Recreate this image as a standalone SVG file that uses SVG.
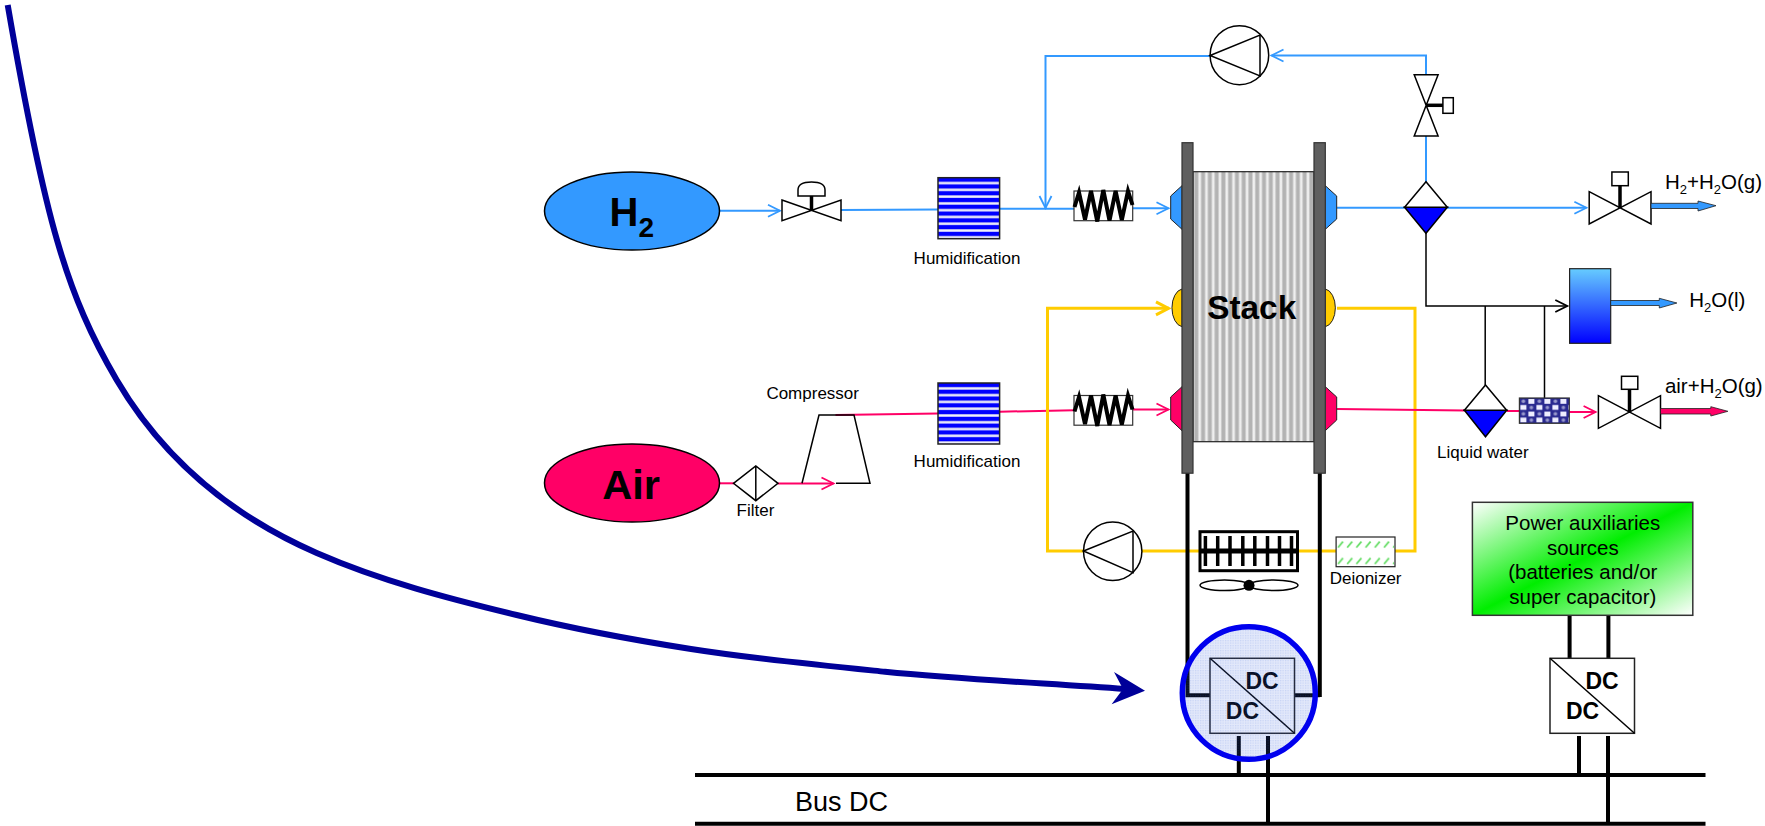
<svg xmlns="http://www.w3.org/2000/svg" xmlns:xlink="http://www.w3.org/1999/xlink" width="1765" height="826" viewBox="0 0 1765 826">
<style>
text{font-family:"Liberation Sans",Arial,sans-serif;fill:#000}
.lbl{font-size:17px}
.mid{text-anchor:middle}
.dc{font-size:23px;font-weight:bold;text-anchor:middle}
.pw{font-size:20.5px;text-anchor:middle}
.fl{font-size:20.5px}
.b{fill:none;stroke:#39f;stroke-width:2}
.p{fill:none;stroke:#f06;stroke-width:2}
.y{fill:none;stroke:#fc0;stroke-width:3}
.k{fill:none;stroke:#000;stroke-width:1.5}
.w{fill:none;stroke:#000;stroke-width:4}
.sym{fill:#fff;stroke:#000;stroke-width:1.5}
.stem{fill:none;stroke:#000;stroke-width:3.5}
.blk{stroke:#222;stroke-width:.8}
.plate{fill:#5f5f5f;stroke:#333;stroke-width:1.2}
.port{stroke:#222;stroke-width:1}
</style>
<defs>
<marker id="mb" markerUnits="userSpaceOnUse" markerWidth="16" markerHeight="16" refX="13" refY="8" orient="auto"><path d="M1 2L13 8L1 14" fill="none" stroke="#39f" stroke-width="1.8"/></marker>
<marker id="mp" markerUnits="userSpaceOnUse" markerWidth="16" markerHeight="16" refX="13" refY="8" orient="auto"><path d="M1 2L13 8L1 14" fill="none" stroke="#f06" stroke-width="1.8"/></marker>
<marker id="my" markerUnits="userSpaceOnUse" markerWidth="16" markerHeight="18" refX="14" refY="9" orient="auto"><path d="M1 2.500L13.500 9L1 15.500" fill="none" stroke="#fc0" stroke-width="3"/></marker>
<marker id="mk" markerUnits="userSpaceOnUse" markerWidth="16" markerHeight="16" refX="13" refY="8" orient="auto"><path d="M1 2L13 8L1 14" fill="none" stroke="#000" stroke-width="1.8"/></marker>
<linearGradient id="gStripe" x1="0" y1="0" x2="0" y2="1"><stop offset="0" stop-color="#00f"/><stop offset=".5" stop-color="#00f"/><stop offset=".68" stop-color="#dde"/><stop offset=".85" stop-color="#fff"/><stop offset="1" stop-color="#99f"/></linearGradient>
<pattern id="hum" patternUnits="objectBoundingBox" width="1" height=".1111"><rect width="70" height="6.78" fill="url(#gStripe)"/></pattern>
<linearGradient id="gBar" x1="0" y1="0" x2="1" y2="0"><stop offset="0" stop-color="#fff"/><stop offset=".3" stop-color="#b3b3b3"/><stop offset=".65" stop-color="#b3b3b3"/><stop offset="1" stop-color="#fff"/></linearGradient>
<pattern id="bars" patternUnits="userSpaceOnUse" x="1193" y="0" width="6.77" height="10"><rect width="6.77" height="10" fill="url(#gBar)"/></pattern>
<linearGradient id="gTank" x1="0" y1="0" x2="0" y2="1"><stop offset="0" stop-color="#6cf"/><stop offset="1" stop-color="#00f"/></linearGradient>
<linearGradient id="gGreen" x1="0" y1="0" x2="1" y2="1"><stop offset="0" stop-color="#fff"/><stop offset=".5" stop-color="#0e0"/><stop offset="1" stop-color="#fff"/></linearGradient>
<pattern id="dots" patternUnits="userSpaceOnUse" width="2.500" height="2.500"><rect width="2.500" height="2.500" fill="#3a64dc" fill-opacity=".15"/><rect width="1.250" height="1.250" fill="#3a64dc" fill-opacity=".16"/></pattern>
<pattern id="mesh" patternUnits="userSpaceOnUse" x="1519.400" y="398" width="16" height="12.600"><rect width="16" height="12.600" fill="#2a2a90"/><rect x="1" y="7" width="6" height="4.800" fill="#eef"/><rect x="9" y="1" width="6" height="4.800" fill="#eef"/><circle cx="4" cy="3.200" r="1.800" fill="#99c"/><circle cx="12" cy="9.500" r="1.800" fill="#99c"/></pattern>
<pattern id="hatch" patternUnits="userSpaceOnUse" x="1336" y="540" width="9.200" height="16.500"><path d="M2 7.500L7 1.500" stroke="#6d6" stroke-width="1.800" fill="none"/></pattern>
<g id="coil"><rect width="58.700" height="29.700" fill="#fff" stroke="#333" stroke-width="1.200"/><path d="M.5 16L5 1.500L11 28.500L17 0L23.300 30.500L29.300 -1L35.500 29.500L41.600 0L47.800 29L54 0L58.500 14" fill="none" stroke="#000" stroke-width="4" stroke-linejoin="miter"/></g>
</defs>
<rect width="1765" height="826" fill="#fff"/>

<g id="connectors">
<path class="b" d="M719 210.700H780" marker-end="url(#mb)"/>
<path class="b" d="M841 210L938 209.400"/>
<path class="b" d="M999.600 208.700H1074"/>
<path class="b" d="M1132.700 208.300H1168.500" marker-end="url(#mb)"/>
<path class="b" d="M1426 75V55.500H1271.500" marker-end="url(#mb)"/>
<path class="b" d="M1210.100 56H1045.500V208" marker-end="url(#mb)"/>
<path class="b" d="M1426 136V182"/>
<path class="b" d="M1337 207.700H1405"/>
<path class="b" d="M1447 207.700H1586.400" marker-end="url(#mb)"/>
<path class="p" d="M719 483.300H734"/>
<path class="p" d="M778 483.500H833.500" marker-end="url(#mp)"/>
<path class="p" d="M835.500 415L938 413.500"/>
<path class="p" d="M999.600 411.700L1074 410.300"/>
<path class="p" d="M1132.700 409.500H1168.500" marker-end="url(#mp)"/>
<path class="y" d="M1142 551H1199M1083.500 551H1047.500V308.300H1169" marker-end="url(#my)"/>
<path class="y" d="M1337 308.300H1415V551H1395M1336 551H1298"/>
<path class="p" d="M1337 409L1465 410.500"/>
<path class="p" d="M1506.700 411H1520"/>
<path class="p" d="M1569.300 412H1595.600" marker-end="url(#mp)"/>
<path class="k" d="M1426 233V306H1567.300" marker-end="url(#mk)"/>
<path class="k" d="M1485.200 306V385M1544.500 306V398"/>
<path class="w" d="M1187.500 473V695.300H1210M1319.800 473V697M1294.500 695.300H1319.800"/>
<path class="w" d="M1238.800 736V775M1268 736V824"/>
<path class="w" d="M1569.600 615V658M1608.400 615V658"/>
<path class="w" d="M1579 736V775M1608 736V824"/>
<path class="w" d="M695 775H1705.500M695 823.700H1705.500"/>
</g>

<g id="node-h2"><ellipse cx="632" cy="211" rx="87.500" ry="39" fill="#39f" stroke="#000" stroke-width="1.500"/><text x="609.500" y="226" font-size="40" font-weight="bold">H<tspan font-size="28" dy="10.500">2</tspan></text></g>
<g id="node-air"><ellipse cx="632" cy="483" rx="87.500" ry="39" fill="#f06" stroke="#000" stroke-width="1.500"/><text x="631" y="498.500" font-size="41.500" font-weight="bold" text-anchor="middle">Air</text></g>

<g id="node-h2-valve"><path class="sym" d="M782 200L841 220.700V200L782 220.700Z"/><path class="stem" d="M811.500 196V211"/><path class="sym" d="M798 196V190Q798 182 811.500 182Q825 182 825 190V196Z"/></g>
<g id="node-hum1"><rect x="938" y="177.700" width="61.600" height="61" fill="url(#hum)" stroke="#222" stroke-width="1.500"/><text class="lbl mid" x="967" y="264">Humidification</text></g>
<g id="node-hum2"><rect x="938" y="383" width="61.600" height="61" fill="url(#hum)" stroke="#222" stroke-width="1.500"/><text class="lbl mid" x="967" y="467">Humidification</text></g>
<g id="node-coil1"><use href="#coil" x="1074" y="191"/></g>
<g id="node-coil2"><use href="#coil" x="1074" y="395.500"/></g>

<g id="node-filter"><path class="sym" d="M733.500 483.300L755.800 466L778 483.300L755.800 500.700ZM755.800 466V500.700"/><text class="lbl mid" x="755.500" y="516">Filter</text></g>
<g id="node-compressor"><path d="M802 483.300L819 415H854L870 483.300H836" fill="none" stroke="#000" stroke-width="1.500"/><text class="lbl mid" x="812.700" y="399">Compressor</text></g>

<g id="node-stack">
<rect x="1193" y="171.700" width="121" height="270" fill="url(#bars)" stroke="#222" stroke-width="1.200"/>
<path class="port" fill="#39f" d="M1182 185.700L1170.700 196V219L1182 229.300Z"/>
<path class="port" fill="#39f" d="M1325.300 185.700L1336.700 196V219L1325.300 229.300Z"/>
<path class="port" fill="#fc0" d="M1182 289A11.500 19 0 0 0 1182 326.700Z"/>
<path class="port" fill="#fc0" d="M1325.300 289A11.500 19 0 0 1 1325.300 326.700Z"/>
<path class="port" fill="#f06" d="M1182 386.700L1170.700 397V420L1182 430.700Z"/>
<path class="port" fill="#f06" d="M1325.300 386.700L1336.700 397V420L1325.300 430.700Z"/>
<rect class="plate" x="1182" y="142.700" width="11" height="330.500"/>
<rect class="plate" x="1314" y="142.700" width="11.300" height="330.500"/>
<text x="1251.700" y="319.300" font-size="33.400" font-weight="bold" text-anchor="middle">Stack</text>
</g>

<g id="node-pump-h2"><ellipse class="sym" cx="1239.400" cy="55.200" rx="29.300" ry="29.500"/><path class="sym" d="M1210.100 55.500L1260 35V76Z"/></g>
<g id="node-pump-coolant"><ellipse class="sym" cx="1112.700" cy="551.300" rx="29.200" ry="29.300"/><path class="sym" d="M1083.500 551L1133 531V572.700Z"/></g>
<g id="node-h2-recycle-valve"><path class="sym" d="M1414.200 74.700H1438.100L1414.200 136H1438.100Z"/><path class="stem" d="M1426 105.300H1443"/><rect class="sym" x="1442.900" y="97.700" width="10.400" height="15.600"/></g>
<g id="node-sep1"><path d="M1404.600 207.300L1426 233.300L1447.300 207.300Z" fill="#00f" stroke="#000" stroke-width="1.500"/><path class="sym" d="M1404.600 207.300L1426 181.700L1447.300 207.300Z"/></g>
<g id="node-h2-valve-out"><path class="sym" d="M1589.200 191.700L1651 224V191.700L1589.200 224Z"/><path class="stem" d="M1620 185.700V208"/><rect class="sym" x="1611.900" y="172" width="16.400" height="13.700"/></g>
<g id="node-h2-out"><path class="blk" fill="#39f" d="M1651 203.300H1698V201L1716 205.700L1698 211V208.500H1651Z"/><text class="fl" x="1665" y="189.300">H<tspan font-size="13" dy="5">2</tspan><tspan dy="-5">+H</tspan><tspan font-size="13" dy="5">2</tspan><tspan dy="-5">O(g)</tspan></text></g>
<g id="node-tank"><rect x="1569.600" y="268.700" width="41.100" height="74.600" fill="url(#gTank)" stroke="#222" stroke-width="1.200"/><path class="blk" fill="#39f" d="M1610.700 300.500H1659.300V298.300L1676.900 303L1659.300 308V305.500H1610.700Z"/><text class="fl" x="1689.200" y="306.700">H<tspan font-size="13" dy="5">2</tspan><tspan dy="-5">O(l)</tspan></text></g>
<g id="node-sep2"><path d="M1464.400 410.300L1485.500 436.700L1506.700 410.300Z" fill="#00f" stroke="#000" stroke-width="1.500"/><path class="sym" d="M1464.400 410.300L1485.500 385L1506.700 410.300Z"/><text class="lbl" x="1437" y="458">Liquid water</text></g>
<g id="node-mesh"><rect x="1519.400" y="398" width="49.900" height="25.300" fill="url(#mesh)" stroke="#333" stroke-width="1.200"/></g>
<g id="node-air-valve-out"><path class="sym" d="M1598.400 395.700L1660.500 428.300V395.700L1598.400 428.300Z"/><path class="stem" d="M1629.500 389V412.500"/><rect class="sym" x="1621.500" y="376.300" width="16.300" height="13"/></g>
<g id="node-air-out"><path class="blk" fill="#f06" d="M1660.500 408.500H1710.800V406.700L1727.900 411.300L1710.800 416V414H1660.500Z"/><text class="fl" x="1664.900" y="393.300">air+H<tspan font-size="13" dy="5">2</tspan><tspan dy="-5">O(g)</tspan></text></g>

<g id="node-radiator">
<rect x="1200" y="531.700" width="97.500" height="39" fill="#fff" stroke="#000" stroke-width="3"/>
<path d="M1205.400 536V566M1217.700 536V566M1230 536V566M1242.800 536V566M1254.800 536V566M1267.500 536V566M1279.500 536V566M1291.500 536V566" stroke="#000" stroke-width="3.500" fill="none"/>
<path d="M1200 551H1297.500" stroke="#000" stroke-width="5" fill="none"/>
<ellipse class="sym" cx="1224.500" cy="585.300" rx="24.500" ry="5.300"/><ellipse class="sym" cx="1273.500" cy="585.300" rx="24.500" ry="5.300"/><circle cx="1249" cy="585.300" r="5.500" fill="#000"/>
</g>
<g id="node-deionizer"><rect x="1336.100" y="537" width="58.900" height="29.700" fill="#fff" stroke="#222" stroke-width="1.200"/><rect x="1337" y="540" width="57" height="25" fill="url(#hatch)"/><text class="lbl mid" x="1365.600" y="583.500">Deionizer</text></g>

<g id="node-power"><rect x="1472.400" y="502.300" width="220.400" height="113" fill="url(#gGreen)" stroke="#333" stroke-width="1.500"/><text class="pw" x="1582.800" y="530">Power auxiliaries</text><text class="pw" x="1582.800" y="555">sources</text><text class="pw" x="1582.800" y="579">(batteries and/or</text><text class="pw" x="1582.800" y="604">super capacitor)</text></g>
<g id="node-dc2"><rect x="1550" y="658.300" width="84.500" height="75" fill="#fff" stroke="#222" stroke-width="1.500"/><path d="M1550 658.300L1634.500 733.300" stroke="#000" stroke-width="1.500"/><text class="dc" x="1602" y="689.300">DC</text><text class="dc" x="1582.500" y="719.300">DC</text></g>
<g id="node-dc1"><rect x="1210" y="658.300" width="84.500" height="75" fill="#fff" stroke="#222" stroke-width="1.500"/><path d="M1210 658.300L1294.500 733.300" stroke="#000" stroke-width="1.500"/><text class="dc" x="1262" y="689.300">DC</text><text class="dc" x="1242.400" y="719.300">DC</text>
<ellipse cx="1248.800" cy="693" rx="66.500" ry="66.300" fill="url(#dots)" stroke="#00e" stroke-width="5.500"/></g>

<text id="label-bus" x="795" y="810.700" font-size="27">Bus DC</text>

<g id="callout"><path d="M7.700 5C44.700 219.600 66.500 294.600 116.700 380C161.900 456.900 228.500 514.500 316.700 553C380.800 581 448.800 598.600 516.700 615C573.900 628.900 632.800 639.900 691 649C755.200 659.100 820.300 665.300 885 671.700C964.600 679.500 1045.200 683.200 1125 689" fill="none" stroke="#009" stroke-width="6"/><path d="M1145 690.700L1114 672L1123 689L1111.600 704.300Z" fill="#009"/></g>
</svg>
